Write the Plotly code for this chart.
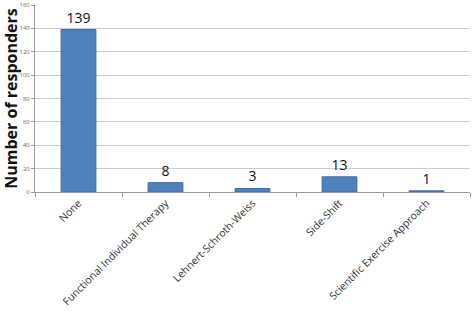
import plotly.graph_objects as go

categories = ["None", "Functional Individual Therapy", "Lehnert-Schroth-Weiss", "Side-Shift", "Scientific Exercise Approach"]
values = [139, 8, 3, 13, 1]
y_ticks = [0, 20, 40, 60, 80, 100, 120, 140, 160]

fig = go.Figure(go.Bar(
    x=categories, y=values, width=0.4,
    marker=dict(color="#4F81BD", line=dict(color="#3E6DA6", width=1)),
    text=[str(v) for v in values], textposition="outside",
    textfont=dict(family="Open Sans, DejaVu Sans", size=14, color="#111111"),
    cliponaxis=False,
))
fig.update_layout(
    width=472, height=317, margin=dict(l=35, r=2, t=5, b=125),
    plot_bgcolor="white", paper_bgcolor="white", showlegend=False,
    font=dict(family="Open Sans, DejaVu Sans"),
)
fig.update_xaxes(
    tickangle=-45, tickfont=dict(size=10.5, color="#333333"),
    showline=True, linecolor="#9a9a9a", linewidth=1,
    ticks="outside", tickson="boundaries", ticklen=4, tickcolor="#9a9a9a",
    showgrid=False, automargin=False,
)
fig.update_yaxes(
    range=[0, 160], tickvals=y_ticks, tickfont=dict(size=6, color="#666666"),
    showgrid=True, gridcolor="#cccccc", gridwidth=1,
    showline=True, linecolor="#9a9a9a", linewidth=1,
    ticks="outside", ticklen=3, tickcolor="#9a9a9a",
    title=dict(text="<b>Number of responders</b>", font=dict(size=16, color="#111111"), standoff=3),
    zeroline=False, automargin=False,
)
fig.write_html("out.html", config={"displayModeBar": False},
               post_script="document.body.style.margin='0';")
